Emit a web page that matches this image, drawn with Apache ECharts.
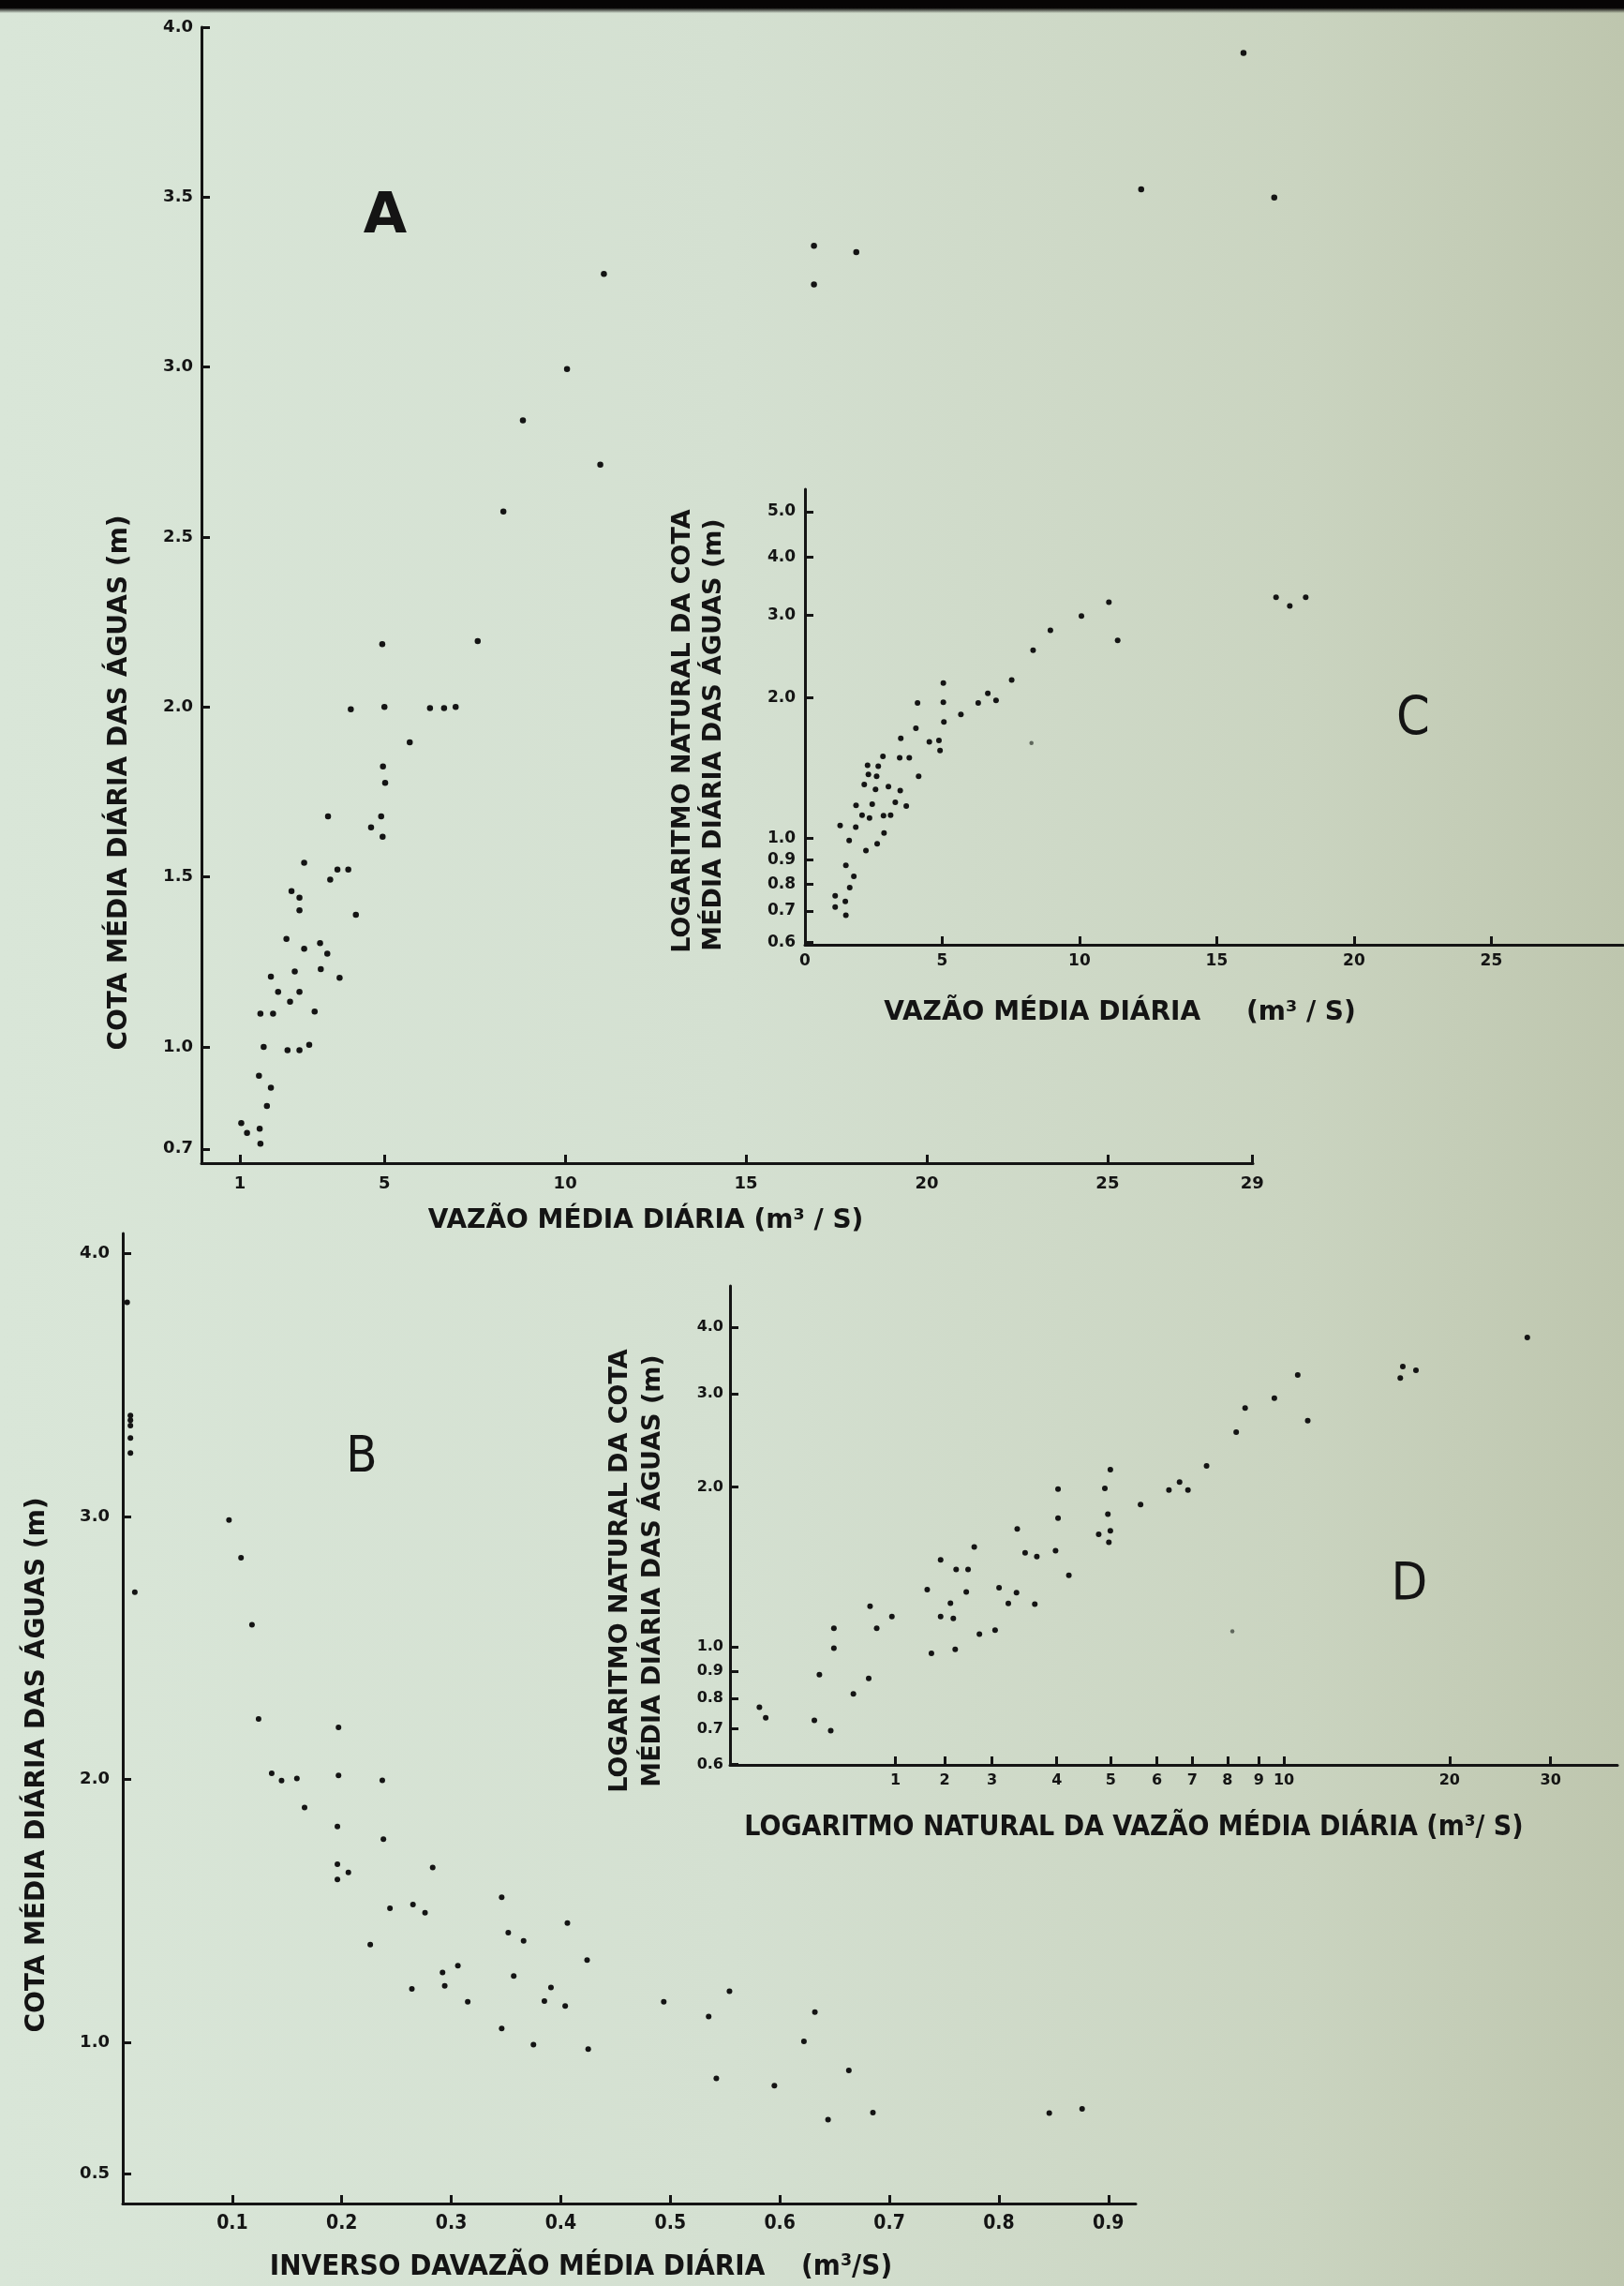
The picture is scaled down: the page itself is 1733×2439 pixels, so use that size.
<!DOCTYPE html>
<html><head><meta charset="utf-8">
<script src="https://cdn.jsdelivr.net/npm/echarts@6/dist/echarts.min.js"></script>
<style>
html,body{margin:0;padding:0;width:1733px;height:2439px;overflow:hidden;}
body{background:linear-gradient(90deg,#d9e6d8 0%,#d4e0d1 45%,#cad4c0 80%,#bec6ae 100%);}
#chart{position:absolute;left:0;top:0;width:1733px;height:2439px;}
#topband{position:absolute;left:0;top:0;width:1733px;height:14px;background:linear-gradient(180deg,#070505 0%,#070505 60%,rgba(7,5,5,0) 100%);}
</style></head>
<body><div id="chart"></div><div id="topband"></div>
<script>
// ---------- Panel A : cota x vazão ----------
const A_VAZAO = [16.88,16.88,11.07,10.05,8.83,10.97,8.29,28.76,25.93,29.61,18.05,
  4.94,7.58,4.07,5.0,6.26,6.65,6.97,5.70,4.96,5.02,3.44,4.63,4.91,4.95,2.78,2.43,2.65,2.65,3.70,4.0,
  3.50,4.21,2.29,3.22,2.78,3.42,2.52,3.24,3.76,1.86,2.06,2.65,2.39,1.57,1.92,3.07,1.66,2.32,2.65,2.92,
  1.53,1.86,1.75,1.04,1.20,1.55,1.57];
const A_COTA = [3.357,3.243,3.274,2.994,2.843,2.713,2.575,3.924,3.523,3.499,3.338,
  2.185,2.194,1.993,2.0,1.997,1.997,2.0,1.896,1.825,1.777,1.678,1.646,1.678,1.618,1.542,1.458,1.439,1.402,1.522,1.522,
  1.492,1.389,1.318,1.305,1.289,1.274,1.222,1.229,1.203,1.207,1.162,1.162,1.133,1.098,1.098,1.104,1.0,0.99,0.99,1.006,
  0.915,0.880,0.826,0.776,0.747,0.759,0.715];
const A_X_TICKS = [1,5,10,15,20,25,29];
const A_X_LABELS = ['1','5','10','15','20','25','29'];
const A_Y_TICKS = [0.7,1.0,1.5,2.0,2.5,3.0,3.5,4.0];
const A_Y_LABELS = ['0.7','1.0','1.5','2.0','2.5','3.0','3.5','4.0'];

// ---------- Panel B : cota x inverso da vazão ----------
const B_INVERSO = [0.004,0.007,0.007,0.007,0.007,0.007,0.011,0.097,0.108,0.118,
  0.124,0.197,0.136,0.145,0.159,0.197,0.237,0.166,0.196,0.238,
  0.196,0.206,0.196,0.283,0.244,0.265,0.276,0.346,0.226,0.352,
  0.366,0.406,0.424,0.292,0.306,0.294,0.357,0.264,0.391,0.315,
  0.385,0.404,0.346,0.375,0.425,0.494,0.554,0.535,0.542,0.595,
  0.632,0.622,0.663,0.644,0.685,0.846,0.876];
const B_COTA = [3.814,3.384,3.366,3.345,3.298,3.241,2.712,2.986,2.843,2.588,
  2.230,2.198,2.023,1.995,2.003,2.015,1.996,1.893,1.821,1.773,
  1.677,1.646,1.619,1.665,1.510,1.524,1.493,1.552,1.372,1.417,
  1.386,1.454,1.313,1.266,1.291,1.215,1.252,1.203,1.209,1.154,
  1.157,1.138,1.053,0.991,0.974,1.154,1.194,1.098,0.863,0.835,
  1.115,1.004,0.893,0.706,0.733,0.731,0.747];
const B_X_TICKS = [0.1,0.2,0.3,0.4,0.5,0.6,0.7,0.8,0.9];
const B_X_LABELS = ['0.1','0.2','0.3','0.4','0.5','0.6','0.7','0.8','0.9'];
const B_Y_TICKS = [0.5,1.0,2.0,3.0,4.0];
const B_Y_LABELS = ['0.5','1.0','2.0','3.0','4.0'];

// ---------- Panel C : cota (escala log) x vazão ----------
const C_VAZAO = [17.16,17.66,18.24,11.07,10.07,8.94,11.39,8.31,7.53,5.04,4.10,5.04,6.31,6.66,6.96,5.68,5.06,4.04,
  4.53,4.88,4.92,3.49,3.45,3.80,4.14,2.84,2.28,2.67,
  2.31,2.61,2.16,3.04,2.57,3.47,3.29,3.69,1.86,2.45,
  2.08,2.35,2.86,3.12,1.28,1.85,1.61,2.88,2.63,2.22,
  1.49,1.78,1.63,1.10,1.47,1.10,1.49];
const C_COTA = [3.278,3.143,3.278,3.201,2.991,2.786,2.652,2.526,2.182,2.151,1.949,1.956,1.949,2.044,1.974,1.842,1.776,1.722,
  1.609,1.621,1.543,1.638,1.488,1.488,1.359,1.499,1.435,1.427,
  1.371,1.359,1.305,1.291,1.274,1.267,1.195,1.174,1.178,1.185,
  1.122,1.107,1.120,1.122,1.066,1.058,0.991,1.028,0.975,0.943,
  0.877,0.830,0.786,0.755,0.734,0.714,0.686];
const C_FAINT_VAZAO = [8.25];
const C_FAINT_COTA = [1.601];
const C_X_TICKS = [0,5,10,15,20,25];
const C_X_LABELS = ['0','5','10','15','20','25'];
const C_Y_TICKS = [0.6,0.7,0.8,0.9,1.0,2.0,3.0,4.0,5.0];
const C_Y_LABELS = ['0.6','0.7','0.8','0.9','1.0','2.0','3.0','4.0','5.0'];

// ---------- Panel D : cota (log) x vazão (log) ----------
const D_VAZAO = [27.5,16.39,16.22,17.31,10.59,9.61,11.04,8.51,8.20,7.25,
  6.20,6.48,6.71,5.51,4.86,4.75,4.81,4.86,4.63,4.83,
  3.91,3.91,3.87,4.09,3.30,3.41,3.58,2.76,2.40,2.56,
  2.69,2.27,3.06,2.67,3.29,2.50,3.18,3.55,2.40,2.53,
  1.79,1.96,1.84,1.54,2.82,3.01,1.54,2.31,2.55,
  1.45,1.78,1.67,1.13,1.16,1.42,1.52];
const D_COTA = [3.830,3.377,3.211,3.321,3.254,2.942,2.669,2.821,2.539,2.193,
  1.976,2.044,1.976,1.855,2.157,1.990,1.778,1.654,1.630,1.574,
  1.984,1.749,1.517,1.364,1.669,1.504,1.479,1.542,1.459,1.399,
  1.399,1.282,1.293,1.269,1.265,1.209,1.207,1.203,1.140,1.131,
  1.193,1.140,1.084,1.084,1.057,1.075,0.994,0.972,0.989,
  0.886,0.872,0.815,0.769,0.735,0.727,0.695];
const D_FAINT_VAZAO = [8.07];
const D_FAINT_COTA = [1.070];
// tick marks stand where the drawing puts them on the log scale
const D_X_TICK_AT = [1.99,2.44,2.97,3.89,4.87,5.90,6.83,7.91,9.01,10,19.9,30.3];
const D_X_LABELS = ['1','2','3','4','5','6','7','8','9','10','20','30'];
const D_Y_TICKS = [0.6,0.7,0.8,0.9,1.0,2.0,3.0,4.0];
const D_Y_LABELS = ['0.6','0.7','0.8','0.9','1.0','2.0','3.0','4.0'];

// ---------- build ----------
const INK = '#141414';
const BOLD = 'DejaVu Sans, Verdana, sans-serif';
const COND = "'DejaVu Sans Condensed', 'Liberation Sans Narrow', 'DejaVu Sans', sans-serif";
const lin = v => v;
const lg = v => Math.log10(v);

function fmt(vals, labels) {
  return function (v) {
    for (let i = 0; i < vals.length; i++) if (Math.abs(vals[i] - v) < 1e-7) return labels[i];
    return '';
  };
}
function axis(gridIndex, min, max, ticks, labels, tf, o) {
  const vals = ticks.map(tf);
  return {
    type: 'value', gridIndex: gridIndex, min: min, max: max,
    splitLine: {show: false}, splitArea: {show: false},
    axisLine: {show: true, onZero: false, lineStyle: {color: INK, width: 3}},
    axisTick: {show: true, inside: true, length: o.tick || 9, customValues: vals,
      lineStyle: {color: INK, width: 3}},
    axisLabel: {show: true, customValues: vals, margin: o.margin, formatter: fmt(vals, labels),
      color: INK, fontFamily: o.family || BOLD, fontWeight: 'bold', fontSize: o.size}
  };
}
function pairs(xs, ys, fx, fy) { return xs.map((x, i) => [fx(x), fy(ys[i])]); }
function scatter(xi, data, size, color) {
  return {type: 'scatter', xAxisIndex: xi, yAxisIndex: xi, data: data, symbol: 'circle',
    symbolSize: size, clip: false, silent: true, animation: false,
    itemStyle: {color: color, opacity: 1}};
}
function txt(x, y, s, font, rot) {
  return {type: 'text', x: x, y: y, rotation: rot || 0, silent: true,
    style: {text: s, font: font, fill: INK, align: 'center', verticalAlign: 'middle'}};
}

const option = {
  backgroundColor: 'transparent',
  animation: false,
  grid: [
    {left: 215, top: 29, width: 1122, height: 1212, containLabel: false, outerBoundsMode: 'none'},
    {left: 131, top: 1316, width: 1081, height: 1035, containLabel: false, outerBoundsMode: 'none'},
    {left: 859, top: 522, width: 873, height: 486, containLabel: false, outerBoundsMode: 'none'},
    {left: 779, top: 1372, width: 947, height: 511, containLabel: false, outerBoundsMode: 'none'}
  ],
  xAxis: [
    axis(0, -0.06, 29.02, A_X_TICKS, A_X_LABELS, lin, {margin: 13, size: 18}),
    axis(1, 0, 0.925, B_X_TICKS, B_X_LABELS, lin, {margin: 11, size: 21, family: COND}),
    axis(2, 0, 29.8, C_X_TICKS, C_X_LABELS, lin, {margin: 9, size: 17}),
    axis(3, 0, Math.log10(40), D_X_TICK_AT, D_X_LABELS, lg, {margin: 9, size: 16})
  ],
  yAxis: [
    axis(0, 0.658, 4.0, A_Y_TICKS, A_Y_LABELS, lin, {margin: 9, size: 18}),
    axis(1, 0.387, 4.076, B_Y_TICKS, B_Y_LABELS, lin, {margin: 14, size: 18}),
    axis(2, Math.log10(0.593), Math.log10(5.58), C_Y_TICKS, C_Y_LABELS, lg, {margin: 10, size: 17}),
    axis(3, Math.log10(0.599), Math.log10(4.79), D_Y_TICKS, D_Y_LABELS, lg, {margin: 7, size: 16})
  ],
  series: [
    scatter(0, pairs(A_VAZAO, A_COTA, lin, lin), 6.5, INK),
    scatter(1, pairs(B_INVERSO, B_COTA, lin, lin), 6, INK),
    scatter(2, pairs(C_VAZAO, C_COTA, lin, lg), 6, INK),
    scatter(2, pairs(C_FAINT_VAZAO, C_FAINT_COTA, lin, lg), 4.5, '#5f675c'),
    scatter(3, pairs(D_VAZAO, D_COTA, lg, lg), 6, INK),
    scatter(3, pairs(D_FAINT_VAZAO, D_FAINT_COTA, lg, lg), 4.5, '#5f675c')
  ],
  graphic: [
    // panel letters
    txt(411, 232, 'A', 'bold 60px ' + BOLD),
    txt(386, 1556, 'B', 'normal 54px ' + COND),
    txt(1508, 769, 'C', 'normal 57px ' + COND),
    txt(1504, 1691, 'D', 'normal 56px ' + COND),
    // panel A titles
    txt(128, 835, 'COTA MÉDIA DIÁRIA DAS ÁGUAS (m)', 'bold 28px ' + BOLD, Math.PI / 2),
    txt(689, 1303, 'VAZÃO MÉDIA DIÁRIA (m³ / S)', 'bold 28px ' + BOLD),
    // panel B titles
    txt(40, 1883, 'COTA MÉDIA DIÁRIA DAS ÁGUAS (m)', 'bold 28px ' + BOLD, Math.PI / 2),
    txt(620, 2419, 'INVERSO DAVAZÃO MÉDIA DIÁRIA    (m³/S)', 'bold 31px ' + COND),
    // panel C titles
    txt(729, 780, 'LOGARITMO NATURAL DA COTA', 'bold 27px ' + BOLD, Math.PI / 2),
    txt(762, 784, 'MÉDIA DIÁRIA DAS ÁGUAS (m)', 'bold 27px ' + BOLD, Math.PI / 2),
    txt(1195, 1081, 'VAZÃO MÉDIA DIÁRIA     (m³ / S)', 'bold 28px ' + BOLD),
    // panel D titles
    txt(662, 1676, 'LOGARITMO NATURAL DA COTA', 'bold 27px ' + BOLD, Math.PI / 2),
    txt(697, 1676, 'MÉDIA DIÁRIA DAS ÁGUAS (m)', 'bold 27px ' + BOLD, Math.PI / 2),
    txt(1210, 1950, 'LOGARITMO NATURAL DA VAZÃO MÉDIA DIÁRIA (m³/ S)', 'bold 30px ' + COND)
  ]
};

const chart = echarts.init(document.getElementById('chart'), null, {renderer: 'canvas'});
chart.setOption(option);
</script>
</body></html>
